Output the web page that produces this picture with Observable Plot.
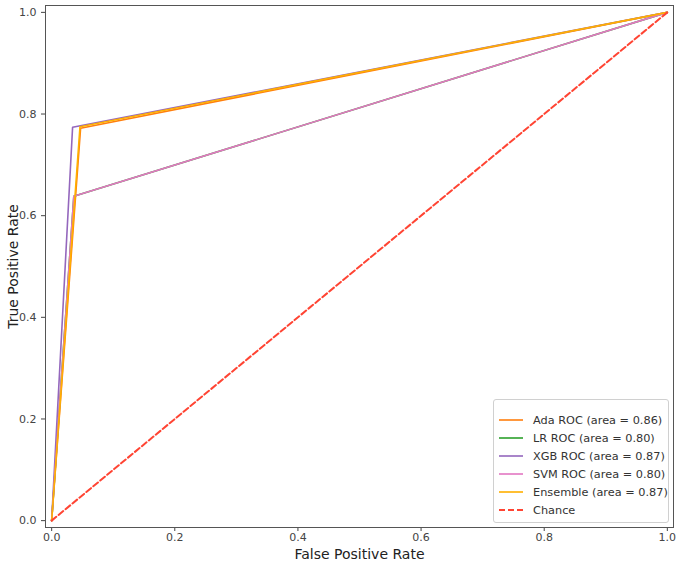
<!DOCTYPE html>
<html>
<head>
<meta charset="utf-8">
<script src="https://cdn.jsdelivr.net/npm/d3@7"></script>
<script src="https://cdn.jsdelivr.net/npm/@observablehq/plot@0.6"></script>
<style>
  html, body { margin: 0; padding: 0; background: #fff; }
  #wrap { position: relative; width: 685px; height: 582px; font-family: "DejaVu Sans", sans-serif; }
  #legend { position: absolute; left: 493px; top: 399px; width: 176px; height: 124px; box-sizing: border-box;
    border: 1px solid #d0d0d0; border-radius: 3px; background: rgba(255,255,255,0.85);
    padding-top: 11px; font-size: 11.3px; color: #333; white-space: nowrap; }
  .row { display: flex; align-items: center; height: 18px; }
  .row svg { margin-left: 5px; margin-right: 10px; flex: none; }
</style>
</head>
<body>
<div id="wrap"><div id="legend"></div></div>
<script>
// ROC curve points
const models   = ["Ada", "LR", "XGB", "SVM", "Ensemble"];
const labels   = ["Ada ROC (area = 0.86)", "LR ROC (area = 0.80)", "XGB ROC (area = 0.87)", "SVM ROC (area = 0.80)", "Ensemble (area = 0.87)"];
const colors   = ["#ff7f0e", "#2ca02c", "#9467bd", "#e377c2", "#ffb000"];
const fprAda = [0, 0.047, 1],  tprAda = [0, 0.772, 1];
const fprLR  = [0, 0.036, 1],  tprLR  = [0, 0.638, 1];
const fprXGB = [0, 0.034, 1],  tprXGB = [0, 0.774, 1];
const fprSVM = [0, 0.036, 1],  tprSVM = [0, 0.638, 1];
const fprEns = [0, 0.046, 1],  tprEns = [0, 0.775, 1];
const chanceX = [0, 1], chanceY = [0, 1];
const xTicks = [0, 0.2, 0.4, 0.6, 0.8, 1.0];
const yTicks = [0, 0.2, 0.4, 0.6, 0.8, 1.0];

const fprs = [fprAda, fprLR, fprXGB, fprSVM, fprEns];
const tprs = [tprAda, tprLR, tprXGB, tprSVM, tprEns];
const rows = [];
models.forEach((m, i) => fprs[i].forEach((x, j) => rows.push({model: m, fpr: x, tpr: tprs[i][j]})));
const chance = chanceX.map((x, i) => ({fpr: x, tpr: chanceY[i]}));

const chart = Plot.plot({
  width: 685,
  height: 582,
  marginLeft: 45,
  marginRight: 12,
  marginTop: 5,
  marginBottom: 55,
  style: {fontFamily: "DejaVu Sans, sans-serif", background: "transparent"},
  x: {domain: [-0.01, 1.01]},
  y: {domain: [-0.0135, 1.0135]},
  color: {domain: models, range: colors},
  marks: [
    Plot.axisX({ticks: xTicks, tickFormat: d3.format(".1f"), tickSize: 4, tickPadding: 2, fontSize: 11, color: "#444",
      label: "False Positive Rate", labelAnchor: "center", labelArrow: "none", labelOffset: 31}),
    Plot.axisY({ticks: yTicks, tickFormat: d3.format(".1f"), tickSize: 4, fontSize: 11, color: "#444",
      label: "True Positive Rate", labelAnchor: "center", labelArrow: "none", labelOffset: 37}),
    Plot.line(rows, {x: "fpr", y: "tpr", z: "model", stroke: "model", strokeWidth: 1.6}),
    Plot.line(chance, {x: "fpr", y: "tpr", stroke: "#ff4433", strokeWidth: 2, strokeDasharray: "6,3"}),
    Plot.frame({stroke: "#555", strokeWidth: 1})
  ]
});
chart.style.position = "absolute";
chart.style.left = "0";
chart.style.top = "0";
chart.querySelectorAll("g[aria-label='x-axis label'] text, g[aria-label='y-axis label'] text").forEach(t => {
  t.style.fontSize = "14px"; t.style.fill = "#222";
});
const wrap = document.getElementById("wrap");
wrap.insertBefore(chart, wrap.firstChild);

const legend = document.getElementById("legend");
const entries = labels.map((l, i) => ({label: l, color: colors[i], dash: null}));
entries.push({label: "Chance", color: "#ff4433", dash: "6,3"});
entries.forEach(e => {
  const row = document.createElement("div");
  row.className = "row";
  row.innerHTML = `<svg width="24" height="10"><line x1="0" x2="24" y1="5" y2="5" stroke="${e.color}" stroke-width="${e.dash ? 2 : 1.6}" ${e.dash ? `stroke-dasharray="${e.dash}"` : ""}/></svg><span>${e.label}</span>`;
  legend.appendChild(row);
});
</script>
</body>
</html>
